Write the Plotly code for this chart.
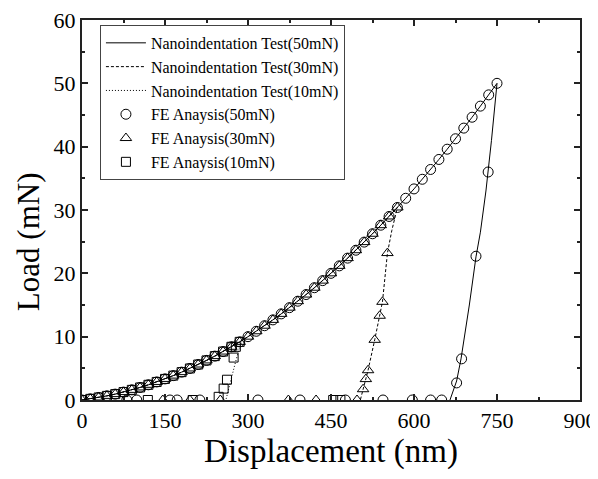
import plotly.graph_objects as go

# Loading curve (shared by all tests), every 15 nm
load_h = [0, 15, 30, 45, 60, 75, 90, 105, 120, 135, 150, 165, 180, 195, 210, 225, 240, 255, 270, 285,
          300, 315, 330, 345, 360, 375, 390, 405, 420, 435, 450, 465, 480, 495, 510, 525, 540, 555, 570,
          585, 600, 615, 630, 645, 660, 675, 690, 705, 720, 735, 750]
load_p = [0, 0.18, 0.40, 0.65, 0.93, 1.25, 1.60, 1.98, 2.40, 2.85, 3.33, 3.85, 4.40, 4.98, 5.60, 6.25,
          6.93, 7.65, 8.40, 9.18, 10.0, 10.85, 11.73, 12.65, 13.60, 14.58, 15.60, 16.65, 17.73, 18.85,
          20.0, 21.18, 22.40, 23.65, 24.93, 26.25, 27.60, 28.98, 30.40, 31.85, 33.33, 34.85, 36.40,
          37.98, 39.60, 41.25, 42.93, 44.65, 46.40, 48.18, 50.0]

# Nanoindentation test unloading branches
unl50_h = [750, 740, 734, 730, 720, 712, 700, 690, 685, 677, 670, 665]
unl50_p = [50.0, 41.0, 36.0, 33.0, 26.5, 22.6, 15.0, 9.5, 6.5, 3.0, 1.2, 0]
unl30_h = [570, 560, 552, 543, 538, 529, 517, 513, 508, 503]
unl30_p = [30.4, 26.8, 23.2, 15.5, 13.3, 9.5, 4.7, 3.3, 1.7, 0]
unl10_h = [290, 283, 276, 270, 265, 262, 260]
unl10_p = [9.6, 7.8, 5.5, 3.5, 1.8, 0.6, 0]

# FE analysis unloading markers
fe50_unl_h = [734, 712, 686, 677]
fe50_unl_p = [36.0, 22.7, 6.5, 2.7]
fe30_unl_h = [552, 543, 538, 529, 517, 513, 508]
fe30_unl_p = [23.2, 15.5, 13.3, 9.5, 4.7, 3.3, 1.7]
fe10_unl_h = [278, 274, 262, 256, 247]
fe10_unl_p = [8.4, 6.7, 3.2, 1.8, 0.5]

# FE markers resting on the axis (zero load)
fe50_zero_h = [81, 99, 159, 172, 213, 318, 394, 476, 544, 597, 630, 650]
fe30_zero_h = [146, 195, 250, 373, 423, 497]
fe10_zero_h = [119, 200, 454, 467]

font_family = "Liberation Serif"

def upto(hmax):
    hs = [h for h in load_h if h <= hmax]
    ps = [p for h, p in zip(load_h, load_p) if h <= hmax]
    return hs, ps

fig = go.Figure()

# Test lines
h50, p50 = upto(750)
fig.add_trace(go.Scatter(x=h50 + unl50_h[1:], y=p50 + unl50_p[1:], mode="lines",
                         line=dict(color="black", width=1, dash="solid"),
                         name="Nanoindentation Test(50mN)"))
h30, p30 = upto(570)
fig.add_trace(go.Scatter(x=h30 + unl30_h[1:], y=p30 + unl30_p[1:], mode="lines",
                         line=dict(color="black", width=1, dash="3px,2px"),
                         name="Nanoindentation Test(30mN)"))
h10, p10 = upto(285)
fig.add_trace(go.Scatter(x=h10 + unl10_h, y=p10 + unl10_p, mode="lines",
                         line=dict(color="black", width=1, dash="1px,2px"),
                         name="Nanoindentation Test(10mN)"))

# FE markers
fig.add_trace(go.Scatter(x=h50 + fe50_unl_h + fe50_zero_h,
                         y=p50 + fe50_unl_p + [0] * len(fe50_zero_h),
                         mode="markers",
                         marker=dict(symbol="circle-open", size=10, color="black", line=dict(width=1)),
                         name="FE Anaysis(50mN)"))
fig.add_trace(go.Scatter(x=h30 + fe30_unl_h + fe30_zero_h,
                         y=p30 + fe30_unl_p + [0] * len(fe30_zero_h),
                         mode="markers",
                         marker=dict(symbol="triangle-up-open", size=10, color="black", line=dict(width=1)),
                         name="FE Anaysis(30mN)"))
fig.add_trace(go.Scatter(x=h10 + fe10_unl_h + fe10_zero_h,
                         y=p10 + fe10_unl_p + [0] * len(fe10_zero_h),
                         mode="markers",
                         marker=dict(symbol="square-open", size=9, color="black", line=dict(width=1)),
                         name="FE Anaysis(10mN)"))

axis_common = dict(showline=True, linecolor="#222", linewidth=2, mirror="ticks",
                   ticks="inside", ticklen=6, tickwidth=1.5, tickcolor="#222",
                   showgrid=False, zeroline=False, automargin=False,
                   ticklabeloverflow="allow",
                   tickfont=dict(family=font_family, size=22, color="black"))

fig.update_xaxes(range=[0, 900], dtick=150, tick0=0,
                 minor=dict(ticks="inside", ticklen=3, dtick=75, tickcolor="#222"),
                 title=dict(text="Displacement (nm)", font=dict(family=font_family, size=33, color="black"),
                            standoff=2),
                 **axis_common)
fig.update_yaxes(range=[0, 60], dtick=10, tick0=0,
                 minor=dict(ticks="inside", ticklen=3, dtick=5, tickcolor="#222"),
                 **axis_common)

fig.add_annotation(text="Load (mN)", xref="paper", yref="paper", x=-0.106, y=0.416,
                   xanchor="center", yanchor="middle", textangle=-90, showarrow=False,
                   font=dict(family=font_family, size=31, color="black"))

# page body has an 8px default margin: size/margins compensate for it
fig.update_layout(
    width=590, height=471,
    margin=dict(l=74, r=18, t=12, b=79),
    plot_bgcolor="white", paper_bgcolor="white",
    font=dict(family=font_family, color="black"),
    legend=dict(x=0.036, y=0.987, xanchor="left", yanchor="top",
                bgcolor="white", bordercolor="#444", borderwidth=1,
                font=dict(family=font_family, size=16, color="black"),
                tracegroupgap=0, itemwidth=40),
    showlegend=True,
)

fig.write_html("out.html")
